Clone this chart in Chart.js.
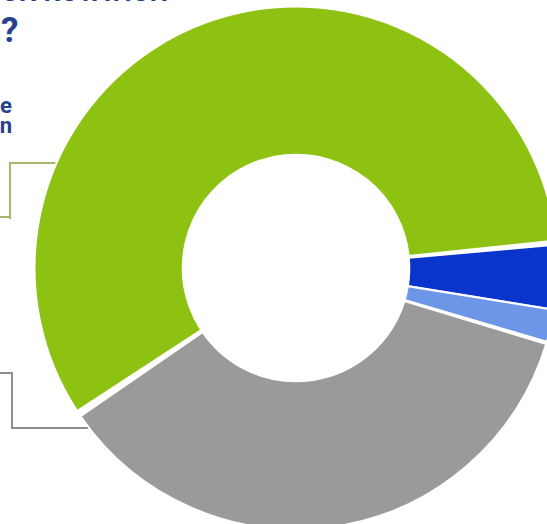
<!DOCTYPE html>
<html lang="en">
<head>
    <meta charset="UTF-8">
    <title>Donut chart</title>
    <script src="https://cdn.jsdelivr.net/npm/chart.js"></script>
    <style>
        html, body {
            margin: 0;
            padding: 0;
            background: #ffffff;
            overflow: hidden;
        }
        body {
            width: 547px;
            height: 524px;
            position: relative;
            font-family: "Roboto", "Liberation Sans", Arial, sans-serif;
        }
        #wrap {
            position: absolute;
            left: 0;
            top: 0;
            width: 547px;
            height: 524px;
        }
        .title {
            position: absolute;
            left: 1px;
            font-weight: bold;
            color: #26418f;
            white-space: nowrap;
            line-height: 1;
        }
        .note {
            position: absolute;
            right: 535px;
            font-weight: bold;
            font-size: 22px;
            color: #26418f;
            white-space: nowrap;
            text-align: right;
            line-height: 20px;
        }
        .lead {
            position: absolute;
        }
    </style>
</head>
<body>
    <div class="title" style="top:-21px; font-size:26px;">ON ROTATION</div>
    <div class="title" style="top:13px; font-size:35px;">?</div>
    <div class="note" style="top:96px;">the<br>rotation</div>

    <!-- leader lines -->
    <div class="lead" style="left:9px; top:162px; width:52px; height:55px; border-top:2px solid #a4b96a; border-left:2px solid #a4b96a;"></div>
    <div class="lead" style="left:0; top:216px; width:11px; height:0; border-top:2px solid #a4b96a;"></div>
    <div class="lead" style="left:0; top:372px; width:11px; height:55px; border-top:2px solid #8f8f8f; border-right:2px solid #8f8f8f;"></div>
    <div class="lead" style="left:11px; top:427px; width:84px; height:0; border-top:2px solid #8f8f8f;"></div>

    <div id="wrap"><canvas id="donut"></canvas></div>

    <script>
        // values (percent)
        const categories = ['Rotation', 'Other A', 'Other B', 'No rotation'];
        const shares = [58, 4, 2, 36];
        const sliceColors = ['#8dc112', '#0a35cc', '#6d95e8', '#9a9a9a'];

        const ctx = document.getElementById('donut').getContext('2d');
        const donut = new Chart(ctx, {
            type: 'doughnut',
            data: {
                labels: categories,
                datasets: [{
                    data: shares,
                    backgroundColor: sliceColors,
                    borderColor: '#ffffff',
                    borderWidth: 2,
                    spacing: 3,
                    hoverOffset: 0
                }]
            },
            options: {
                responsive: true,
                maintainAspectRatio: false,
                animation: false,
                rotation: 236,
                radius: 260,
                cutout: '43%',
                layout: {
                    padding: { left: 45, right: 0, top: 12, bottom: 0 }
                },
                plugins: {
                    legend: { display: false },
                    tooltip: { enabled: false }
                }
            }
        });
    </script>
</body>
</html>
